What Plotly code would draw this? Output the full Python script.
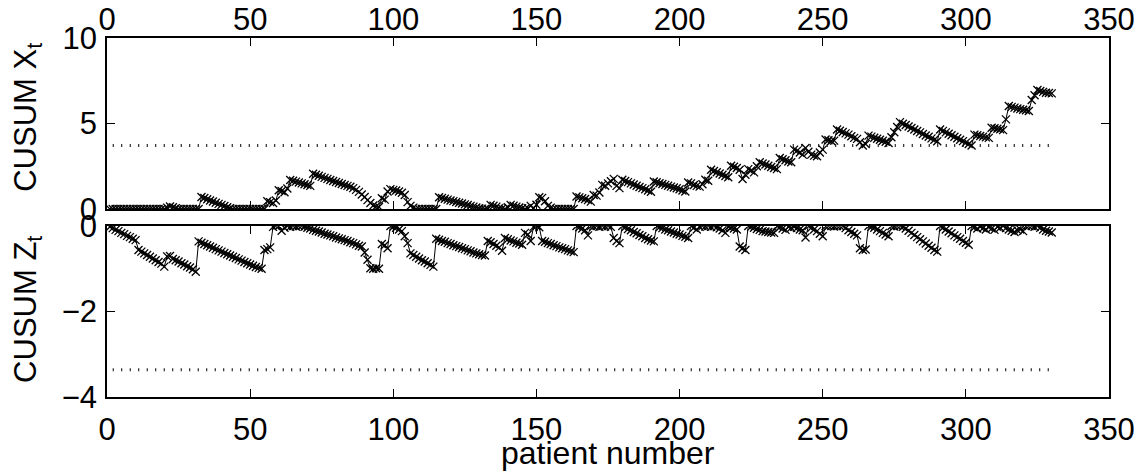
import plotly.graph_objects as go
from plotly.subplots import make_subplots

# patient numbers
patients = list(range(1, 331))

# upper CUSUM X_t
cusum_x = [
    0, 0, 0, 0, 0, 0, 0, 0, 0, 0,
    0, 0, 0, 0, 0, 0, 0, 0, 0, 0,
    0.08, 0.15, 0.10, 0.04, 0, 0, 0, 0, 0, 0,
    0, 0, 0.70, 0.64, 0.57, 0.50, 0.44, 0.37, 0.30, 0.24,
    0.17, 0.10, 0.04, 0, 0, 0, 0, 0, 0, 0,
    0, 0, 0, 0, 0, 0.45, 0.40, 0.35, 0.50, 1.10,
    1.05, 0.98, 1.20, 1.70, 1.65, 1.60, 1.55, 1.50, 1.45, 1.40,
    1.35, 2.06, 2.00, 1.94, 1.88, 1.82, 1.76, 1.70, 1.64, 1.58,
    1.52, 1.46, 1.40, 1.35, 1.30, 1.22, 1.12, 1.00, 0.85, 0.70,
    0.52, 0.35, 0.20, 0.15, 0.12, 0.63, 0.55, 1.02, 1.16, 1.12,
    1.08, 1.02, 0.95, 0.82, 0.40, 0.18, 0.08, 0, 0, 0,
    0, 0, 0, 0, 0, 0.69, 0.64, 0.60, 0.55, 0.50,
    0.46, 0.41, 0.37, 0.32, 0.27, 0.23, 0.18, 0.14, 0.09, 0.04,
    0.02, 0, 0, 0.24, 0.19, 0.14, 0.05, 0.03, 0, 0.10,
    0.24, 0.19, 0.14, 0.09, 0.04, 0, 0.05, 0.18, 0.05, 0.25,
    0.69, 0.65, 0.45, 0.18, 0.08, 0, 0, 0, 0, 0,
    0, 0, 0, 0.73, 0.68, 0.63, 0.58, 0.52, 0.43, 0.82,
    0.78, 0.96, 1.41, 1.36, 1.50, 1.62, 1.76, 1.35, 1.22, 1.71,
    1.64, 1.57, 1.50, 1.43, 1.36, 1.29, 1.22, 1.15, 1.08, 1.01,
    1.61, 1.56, 1.51, 1.46, 1.41, 1.36, 1.31, 1.26, 1.21, 1.15,
    1.08, 1.02, 1.55, 1.50, 1.40, 1.35, 1.31, 1.45, 1.71, 1.65,
    2.29, 2.22, 2.15, 2.08, 2.00, 1.93, 1.86, 2.53, 2.47, 2.40,
    2.29, 1.75, 2.00, 2.33, 2.25, 2.14, 2.50, 2.73, 2.66, 2.60,
    2.53, 2.46, 2.40, 2.33, 2.98, 2.91, 2.85, 2.78, 2.73, 3.47,
    3.40, 3.30, 3.18, 3.57, 3.35, 3.18, 3.12, 3.08, 3.30, 3.47,
    4.06, 4.02, 3.98, 4.00, 4.65, 4.58, 4.50, 4.42, 4.35, 4.25,
    4.16, 4.10, 3.90, 3.71, 3.80, 4.29, 4.23, 4.17, 4.11, 4.05,
    3.99, 3.93, 3.86, 4.20, 4.49, 4.80, 5.08, 4.99, 4.91, 4.82,
    4.74, 4.65, 4.56, 4.48, 4.39, 4.30, 4.22, 4.13, 4.05, 3.96,
    4.65, 4.57, 4.48, 4.40, 4.31, 4.22, 4.14, 4.05, 3.97, 3.88,
    3.80, 3.71, 4.35, 4.31, 4.27, 4.23, 4.19, 4.16, 4.75, 4.72,
    4.69, 4.66, 4.61, 5.24, 6.02, 5.97, 5.93, 5.88, 5.84, 5.80,
    5.77, 5.73, 6.37, 6.65, 6.96, 6.90, 6.85, 6.80, 6.78, 6.76,
]

# lower CUSUM Z_t
cusum_z = [
    -0.02, -0.05, -0.09, -0.12, -0.16, -0.19, -0.23, -0.26, -0.30, -0.33,
    -0.56, -0.60, -0.64, -0.68, -0.72, -0.76, -0.80, -0.84, -0.88, -0.95,
    -0.71, -0.70, -0.77, -0.80, -0.83, -0.87, -0.90, -0.94, -0.97, -1.01,
    -1.07, -0.36, -0.39, -0.42, -0.45, -0.48, -0.51, -0.54, -0.57, -0.60,
    -0.63, -0.66, -0.69, -0.72, -0.75, -0.78, -0.81, -0.84, -0.87, -0.90,
    -0.93, -0.96, -0.98, -1.00, -0.56, -0.54, -0.50, -0.02, 0, 0,
    -0.11, -0.04, 0, -0.02, 0, -0.01, 0, 0, -0.02, -0.04,
    -0.06, -0.09, -0.11, -0.13, -0.15, -0.18, -0.20, -0.22, -0.24, -0.27,
    -0.29, -0.31, -0.33, -0.35, -0.38, -0.40, -0.43, -0.46, -0.48, -0.62,
    -0.79, -0.99, -1.00, -0.99, -1.00, -0.42, -0.45, -0.52, 0, -0.02,
    -0.04, -0.08, -0.12, -0.24, -0.40, -0.64, -0.68, -0.72, -0.76, -0.80,
    -0.83, -0.87, -0.91, -0.95, -0.30, -0.32, -0.35, -0.37, -0.40, -0.42,
    -0.45, -0.47, -0.49, -0.52, -0.54, -0.57, -0.59, -0.62, -0.64, -0.66,
    -0.68, -0.69, -0.35, -0.38, -0.42, -0.46, -0.50, -0.58, -0.28, -0.31,
    -0.34, -0.36, -0.39, -0.41, -0.44, -0.16, -0.20, -0.35, -0.02, 0,
    -0.03, -0.35, -0.37, -0.40, -0.42, -0.45, -0.47, -0.50, -0.52, -0.54,
    -0.57, -0.59, -0.61, 0, -0.03, -0.06, -0.10, -0.22, 0, -0.01,
    0, -0.02, 0, -0.01, 0, -0.02, -0.28, -0.35, -0.40, 0,
    -0.03, -0.07, -0.10, -0.14, -0.17, -0.21, -0.24, -0.28, -0.31, -0.34,
    -0.36, 0, -0.03, -0.05, -0.08, -0.10, -0.13, -0.15, -0.18, -0.20,
    -0.23, -0.25, -0.28, 0, -0.04, -0.08, -0.02, 0, -0.01, 0,
    -0.02, 0, -0.03, -0.06, -0.10, -0.16, -0.02, -0.04, -0.06, -0.08,
    -0.48, -0.52, -0.56, 0, -0.02, -0.04, -0.07, -0.09, -0.12, -0.13,
    -0.14, -0.15, -0.16, 0, -0.03, -0.06, -0.09, -0.02, -0.04, -0.02,
    -0.05, -0.08, -0.10, -0.27, 0, -0.04, -0.08, -0.12, -0.18, -0.24,
    0, 0, 0, -0.01, 0, 0, 0, -0.05, -0.10, -0.14,
    -0.18, -0.22, -0.52, -0.56, -0.55, 0, -0.02, -0.04, -0.08, -0.12,
    -0.16, -0.20, -0.24, 0, -0.01, 0, 0, -0.02, -0.06, -0.11,
    -0.16, -0.21, -0.26, -0.31, -0.36, -0.41, -0.46, -0.51, -0.56, -0.60,
    0, -0.04, -0.08, -0.13, -0.17, -0.22, -0.26, -0.30, -0.35, -0.39,
    -0.44, 0, -0.03, -0.06, -0.02, -0.05, -0.08, -0.03, -0.06, -0.09,
    -0.02, -0.04, 0, -0.05, -0.08, -0.11, -0.14, -0.10, -0.08, -0.12,
    0, 0, 0, -0.02, 0, -0.04, -0.08, -0.11, -0.13, -0.15,
]

# decision thresholds (dotted lines)
threshold_x = 3.72
threshold_z = -3.36
threshold_span = [2, 329]

x_ticks = [0, 50, 100, 150, 200, 250, 300, 350]
y_ticks_top = [0, 5, 10]
y_ticks_bottom = [-4, -2, 0]

FONT = "Liberation Sans, Arial, Helvetica, sans-serif"

fig = make_subplots(rows=2, cols=1, shared_xaxes=False, vertical_spacing=0.0)

marker = dict(symbol="x-thin", size=8, color="black", line=dict(width=1.3, color="black"))

fig.add_trace(go.Scatter(x=patients, y=cusum_x, mode="lines+markers",
                         line=dict(color="black", width=1), marker=marker,
                         showlegend=False), row=1, col=1)
fig.add_trace(go.Scatter(x=threshold_span, y=[threshold_x, threshold_x], mode="lines",
                         line=dict(color="black", width=3, dash="1px,7.5px"),
                         showlegend=False), row=1, col=1)
fig.add_trace(go.Scatter(x=patients, y=cusum_z, mode="lines+markers",
                         line=dict(color="black", width=1), marker=marker,
                         showlegend=False), row=2, col=1)
fig.add_trace(go.Scatter(x=threshold_span, y=[threshold_z, threshold_z], mode="lines",
                         line=dict(color="black", width=3, dash="1px,7.5px"),
                         showlegend=False), row=2, col=1)

axis_common = dict(showline=True, linecolor="black", linewidth=1.6, mirror="allticks",
                   ticks="inside", ticklen=8, tickwidth=1, tickcolor="black",
                   showgrid=False, zeroline=False, automargin=False,
                   tickfont=dict(family=FONT, size=31, color="black"))

fig.update_xaxes(range=[0, 350], tickvals=x_ticks, **axis_common)
fig.update_yaxes(**axis_common)

fig.update_layout(
    width=1142, height=471,
    paper_bgcolor="white", plot_bgcolor="white",
    margin=dict(l=107, r=33, t=38, b=74),
    font=dict(family=FONT, color="black"),
    xaxis=dict(domain=[0, 1], side="top", anchor="y", ticklabelstandoff=-6),
    yaxis=dict(domain=[0.5237, 1.0], range=[0, 10], tickvals=y_ticks_top,
               ticklabelstandoff=2),
    xaxis2=dict(domain=[0, 1], side="bottom", anchor="y2", ticklabelstandoff=4),
    yaxis2=dict(domain=[0, 0.4763], range=[-4, 0], tickvals=y_ticks_bottom,
                ticklabelstandoff=2),
    annotations=[
        dict(text="CUSUM X<sub>t</sub>", xref="paper", yref="paper",
             x=-0.079, y=0.78, xanchor="center", yanchor="middle", textangle=-90,
             showarrow=False, font=dict(family=FONT, size=31, color="black")),
        dict(text="CUSUM Z<sub>t</sub>", xref="paper", yref="paper",
             x=-0.079, y=0.245, xanchor="center", yanchor="middle", textangle=-90,
             showarrow=False, font=dict(family=FONT, size=31, color="black")),
        dict(text="patient number", xref="paper", yref="paper",
             x=0.5, y=-0.155, xanchor="center", yanchor="middle",
             showarrow=False, font=dict(family=FONT, size=32, color="black")),
    ],
)

fig.write_html("out.html", config={"displayModeBar": False},
               post_script="document.body.style.margin='0';document.body.style.padding='0';")
